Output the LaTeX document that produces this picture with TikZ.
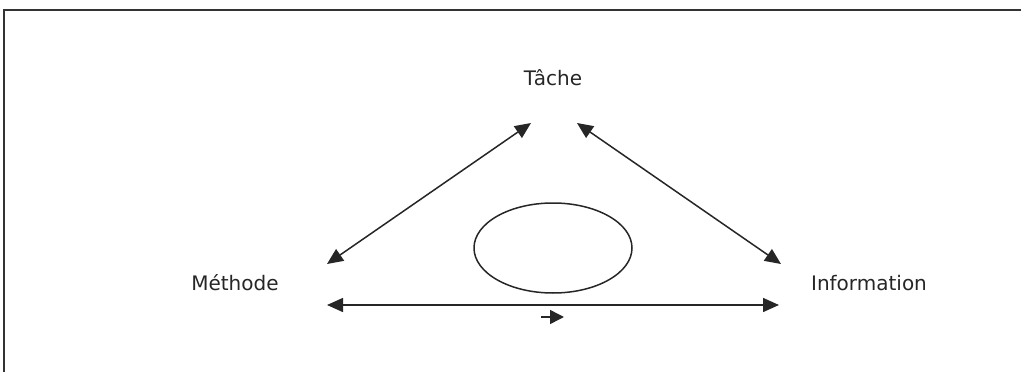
\documentclass[tikz,border=0pt]{standalone}
\usepackage{fontspec}
\setmainfont{DejaVu Sans}
\usetikzlibrary{arrows.meta,shapes.geometric}
\begin{document}
\begin{tikzpicture}[x=1pt,y=-1pt,
  lbl/.style={font=\fontsize{20}{24}\selectfont, text=black!85, inner sep=0pt},
  link/.style={line width=1.5pt, draw=black!85, {Triangle[length=16pt,width=14pt]}-{Triangle[length=16pt,width=14pt]}},
  frame/.style={line width=1.5pt, draw=black!80}]
\useasboundingbox (0,0) rectangle (1021,372);
\draw[frame] (1021,10) -- (4,10) -- (4,372);
\node[lbl] (t) at (553,78) {Tâche};
\node[lbl] (m) at (235,283) {Méthode};
\node[lbl] (i) at (869,283) {Information};
\node[draw=black!85, line width=1.5pt, ellipse, minimum width=158pt, minimum height=90pt, inner sep=0pt] (e) at (553,248) {};
\coordinate (tl) at (531,123);
\coordinate (tr) at (577,123);
\coordinate (ml) at (327,264);
\coordinate (ir) at (781,264);
\coordinate (hl) at (327,305);
\coordinate (hr) at (779,305);
\coordinate (sa) at (541,317);
\coordinate (sb) at (564,317);
\draw[link] (tl) -- (ml);
\draw[link] (tr) -- (ir);
\draw[link] (hl) -- (hr);
\draw[line width=1.5pt, draw=black!85, -{Triangle[length=14pt,width=14pt]}] (sa) -- (sb);
\end{tikzpicture}
\end{document}
